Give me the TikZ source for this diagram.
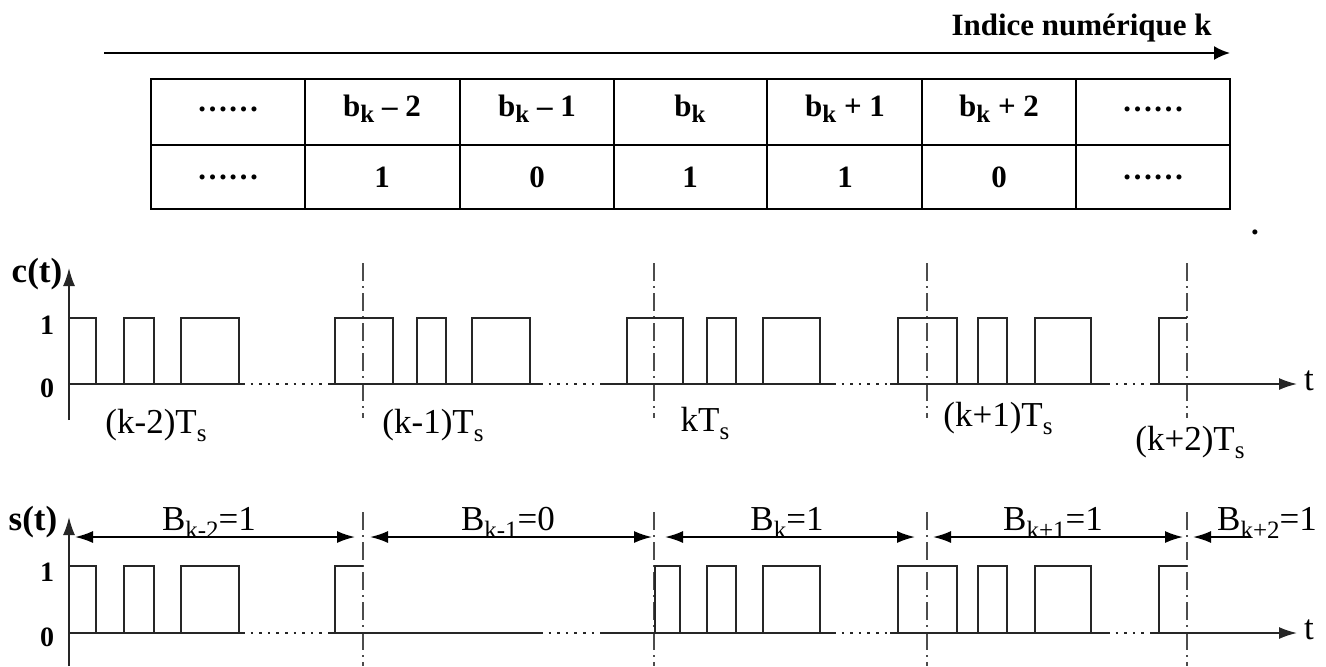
\documentclass[tikz,border=0pt]{standalone}
\usepackage{fontspec}
\setmainfont{Liberation Serif}
\usetikzlibrary{arrows.meta}
% lowered subscripts for the table and for the plot labels
\newcommand\tsub[1]{\raisebox{-3pt}{\fontsize{12.5}{12.5}\selectfont #1}}
\newcommand\psub[1]{\raisebox{-4pt}{\fontsize{12.5}{12.5}\selectfont #1}}
\begin{document}
\begin{tikzpicture}[x=0.5pt,y=-0.5pt,
  tbl/.style={line width=1.1pt,black},
  cell/.style={font=\fontsize{15.5}{15.5}\selectfont\bfseries,inner sep=0pt},
  sig/.style={line width=0.8pt,black!85},
  dotline/.style={line width=1.3pt,black!85,dash pattern=on 1.3pt off 3pt},
  guide/.style={line width=1.1pt,black!70,dash pattern=on 9pt off 2.5pt on 1pt off 2.5pt},
  plab/.style={font=\fontsize{17.5}{17.5}\selectfont,inner sep=0pt,anchor=base},
  ylab/.style={font=\fontsize{14}{14}\selectfont\bfseries,inner sep=0pt},
  axarrow/.style={sig,-{Latex[length=9pt,width=6pt]}},
  dimarrow/.style={line width=0.9pt,black,{Latex[length=9pt,width=6pt]}-{Latex[length=9pt,width=6pt]}},
  onearrow/.style={line width=0.9pt,black,{Latex[length=9pt,width=6pt]}-}
]
\useasboundingbox (0,0) rectangle (1326,666);

% ---------- index axis and bit table ----------
\node[font=\fontsize{15.5}{15.5}\selectfont\bfseries,anchor=east,inner sep=0pt] (title) at (1212,28) {Indice numérique k};
\coordinate (ka) at (104,53);
\coordinate (kb) at (1230,53);
\draw[line width=1pt,-{Latex[length=8pt,width=7pt]}] (ka) -- (kb);

\draw[tbl] (151,79) rectangle (1230,209);
\draw[tbl] (151,145) -- (1230,145);
\foreach \x in {305,460,614,767,922,1076} \draw[tbl] (\x,79) -- (\x,209);

\node[cell] (h1) at (228,109) {……};
\node[cell] (h2) at (382,109) {b\tsub{k} – 2};
\node[cell] (h3) at (537,109) {b\tsub{k} – 1};
\node[cell] (h4) at (690,109) {b\tsub{k}};
\node[cell] (h5) at (845,109) {b\tsub{k} + 1};
\node[cell] (h6) at (999,109) {b\tsub{k} + 2};
\node[cell] (h7) at (1153,109) {……};
\node[cell] (v1) at (228,177) {……};
\node[cell] (v2) at (382,177) {1};
\node[cell] (v3) at (537,177) {0};
\node[cell] (v4) at (690,177) {1};
\node[cell] (v5) at (845,177) {1};
\node[cell] (v6) at (999,177) {0};
\node[cell] (v7) at (1153,177) {……};
\node[cell] (dot) at (1255,232) {.};

% ---------- clock signal c(t) ----------
\foreach \x in {363,654,927,1187} \draw[guide] (\x,263) -- (\x,418);
\coordinate (cy0) at (69,420);
\coordinate (cy1) at (69,268);
\draw[axarrow] (cy0) -- (cy1);
\node[font=\fontsize{17.5}{17.5}\selectfont\bfseries,inner sep=0pt,anchor=base] (clab) at (37,282) {c(t)};
\node[ylab] (c1) at (47,325) {1};
\node[ylab] (c0) at (47,388) {0};
\foreach \a/\b in {69/242,328/540,603/833,890/1107} \draw[sig] (\a,384) -- (\b,384);
\foreach \a/\b in {242/328,540/603,833/890,1107/1152} \draw[dotline] (\a,384) -- (\b,384);
\coordinate (cx0) at (1152,384);
\coordinate (cx1) at (1297,384);
\draw[axarrow] (cx0) -- (cx1);
\node[plab] (ct) at (1309,390) {t};
\foreach \a/\b in {69/96,124/154,181/239,335/393,417/446,472/530,627/683,707/736,763/820,898/957,978/1007,1035/1091}
  \draw[sig] (\a,384) |- (\b,318) -- (\b,384);
\draw[sig] (1159,384) |- (1187,318);
\node[plab] (tk2) at (156,433) {(k-2)T\psub{s}};
\node[plab] (tk1) at (433,433) {(k-1)T\psub{s}};
\node[plab] (tk0) at (705,431) {kT\psub{s}};
\node[plab] (tkp1) at (998,426) {(k+1)T\psub{s}};
\node[plab] (tkp2) at (1190,450) {(k+2)T\psub{s}};

% ---------- modulated signal s(t) ----------
\foreach \x in {363,654,927,1187} \draw[guide] (\x,512) -- (\x,666);
\coordinate (sy0) at (69,666);
\coordinate (sy1) at (69,517);
\draw[axarrow] (sy0) -- (sy1);
\node[font=\fontsize{17.5}{17.5}\selectfont\bfseries,inner sep=0pt,anchor=base] (slab) at (33,530) {s(t)};
\node[ylab] (s1) at (47,572) {1};
\node[ylab] (s0) at (47,637) {0};
\foreach \a/\b in {69/242,328/540,603/833,890/1107} \draw[sig] (\a,633) -- (\b,633);
\foreach \a/\b in {242/328,540/603,833/890,1107/1152} \draw[dotline] (\a,633) -- (\b,633);
\coordinate (sx0) at (1152,633);
\coordinate (sx1) at (1297,633);
\draw[axarrow] (sx0) -- (sx1);
\node[plab] (st) at (1309,639) {t};
\foreach \a/\b in {69/96,124/154,181/239,655/680,707/736,763/820,898/957,978/1007,1035/1091}
  \draw[sig] (\a,633) |- (\b,566) -- (\b,633);
\draw[sig] (335,633) |- (363,566);
\draw[sig] (1159,633) |- (1187,566);

% bit intervals
\coordinate (d1a) at (75,537);  \coordinate (d1b) at (355,537);
\coordinate (d2a) at (370,537); \coordinate (d2b) at (652,537);
\coordinate (d3a) at (665,537); \coordinate (d3b) at (915,537);
\coordinate (d4a) at (933,537); \coordinate (d4b) at (1183,537);
\coordinate (d5a) at (1193,537); \coordinate (d5b) at (1250,537);
\draw[dimarrow] (d1a) -- (d1b);
\draw[dimarrow] (d2a) -- (d2b);
\draw[dimarrow] (d3a) -- (d3b);
\draw[dimarrow] (d4a) -- (d4b);
\draw[onearrow] (d5a) -- (d5b);
\node[plab] (b1) at (209,530) {B\psub{k-2}=1};
\node[plab] (b2) at (508,530) {B\psub{k-1}=0};
\node[plab] (b3) at (787,530) {B\psub{k}=1};
\node[plab] (b4) at (1053,530) {B\psub{k+1}=1};
\node[plab] (b5) at (1267,530) {B\psub{k+2}=1};
\end{tikzpicture}
\end{document}
